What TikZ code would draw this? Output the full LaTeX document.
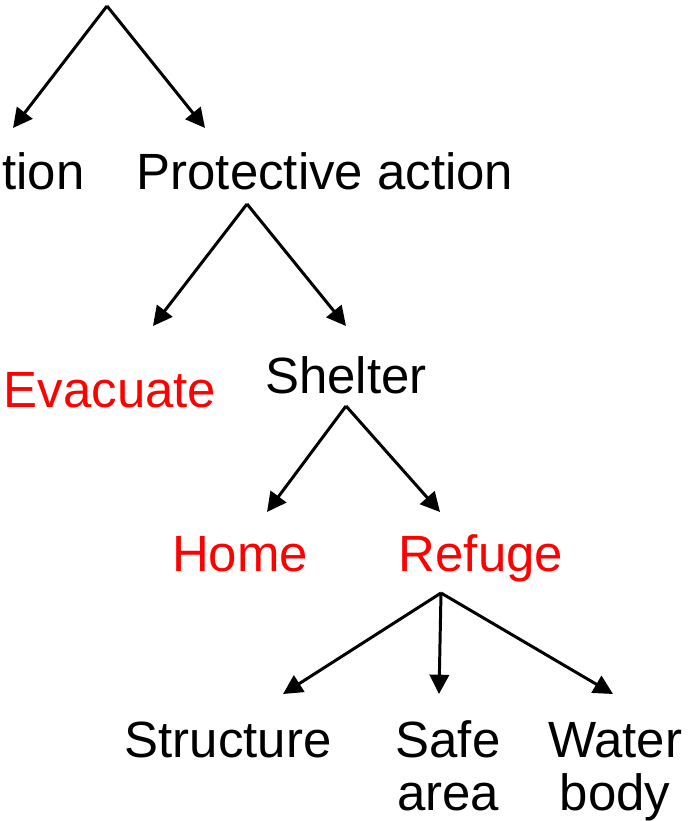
\documentclass[tikz,border=0pt]{standalone}
\usepackage{fontspec}
\setmainfont{Liberation Sans}
\usetikzlibrary{arrows.meta,positioning}
\tikzset{
  lbl/.style={inner sep=0pt, font=\fontsize{29}{30}\selectfont, align=center},
  act/.style={lbl, text=red},
  branch/.style={line width=1.7pt, -{Triangle[length=11pt,width=11pt]}}
}
\def\pagebox{(0,0) rectangle (691,821)}

\begin{document}
\begin{tikzpicture}[x=0.02cm, y=-0.02cm]
  \useasboundingbox \pagebox;

  % labels
  \node[lbl, anchor=base west] (warn) at (2,189) {tion};
  \node[lbl, anchor=base] (protect) at (325,189) {Protective action};
  \node[act, anchor=base] (evac) at (110,407) {Evacuate};
  \node[lbl, anchor=base] (shelter) at (346,393) {Shelter};
  \node[act, anchor=base] (home) at (240,571) {Home};
  \node[act, anchor=base] (refuge) at (481,571) {Refuge};
  \node[lbl, anchor=base] (struct) at (228,757) {Structure};
  \node[lbl, anchor=base] (safe) at (448,810) {Safe\\area};
  \node[lbl, anchor=base] (water) at (615,810) {Water\\body};

  % branching points
  \coordinate (top) at (107,6);
  \coordinate (protectTop) at (247,204);
  \coordinate (shelterTop) at (346,406);
  \coordinate (refugeTop) at (441,593);

  % arrow tips
  \coordinate (warnTip) at (13,128);
  \coordinate (protectTip) at (205,128);
  \coordinate (evacTip) at (153,326);
  \coordinate (shelterTip) at (346,326);
  \coordinate (homeTip) at (267,512);
  \coordinate (refugeTip) at (440,512);
  \coordinate (structTip) at (283,694);
  \coordinate (safeTip) at (439,694);
  \coordinate (waterTip) at (613,694);

  \draw[branch] (top) -- (warnTip);
  \draw[branch] (top) -- (protectTip);
  \draw[branch] (protectTop) -- (evacTip);
  \draw[branch] (protectTop) -- (shelterTip);
  \draw[branch] (shelterTop) -- (homeTip);
  \draw[branch] (shelterTop) -- (refugeTip);
  \draw[branch] (refugeTop) -- (structTip);
  \draw[branch] (refugeTop) -- (safeTip);
  \draw[branch] (refugeTop) -- (waterTip);
\end{tikzpicture}
\end{document}
